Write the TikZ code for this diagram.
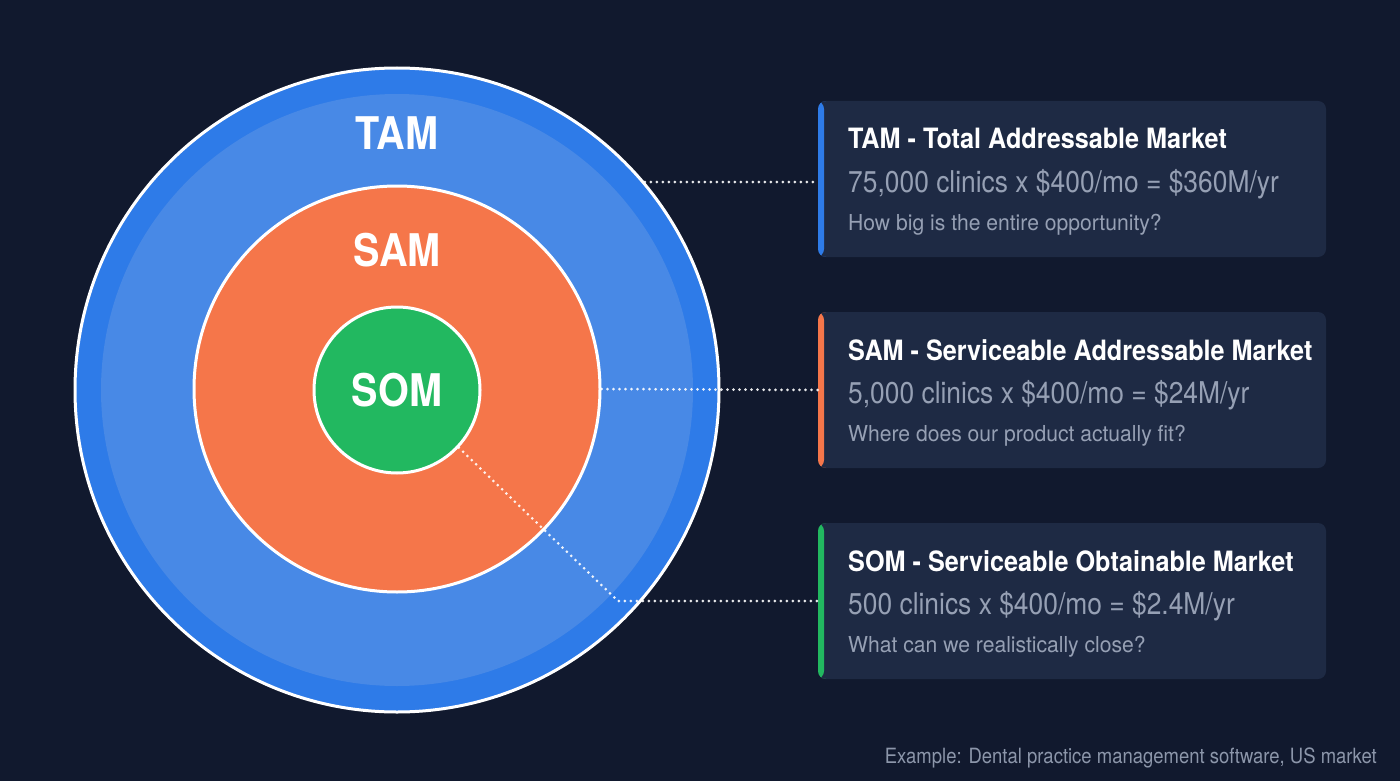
\documentclass[tikz,border=0pt]{standalone}
\usepackage{fontspec}
\setmainfont[FakeStretch=0.87]{TeX Gyre Heros}
\newfontfamily\calcf[FakeStretch=0.88]{TeX Gyre Heros}
\newfontfamily\qstf[FakeStretch=0.96]{TeX Gyre Heros}
\newfontfamily\footf[FakeStretch=0.88]{TeX Gyre Heros}
\newfontfamily\boldf[FakeStretch=0.9]{TeX Gyre Heros Bold}
\newfontfamily\bigf[FakeStretch=0.88]{TeX Gyre Heros Bold}
\usetikzlibrary{calc}
\definecolor{bg}{RGB}{17,25,46}
\definecolor{cardc}{RGB}{30,42,68}
\definecolor{tamblue}{RGB}{46,123,232}
\definecolor{tamlight}{RGB}{72,137,230}
\definecolor{samorange}{RGB}{245,118,74}
\definecolor{somgreen}{RGB}{34,184,96}
\definecolor{txtgray}{RGB}{150,160,180}
\definecolor{footgray}{RGB}{140,150,170}
\begin{document}
\begin{tikzpicture}[x=1pt,y=-1pt,
  ring/.style={circle, draw=white, line width=3pt, inner sep=0pt},
  bigl/.style={text=white, font=\bigf\fontsize{45}{50}\selectfont, inner sep=0pt},
  card/.style={rectangle, rounded corners=8pt, fill=cardc, minimum width=508pt, minimum height=156pt, inner sep=0pt,
     path picture={\fill[#1] (path picture bounding box.south west) rectangle ([xshift=6pt]path picture bounding box.north west);}},
  ttl/.style={anchor=base west, inner sep=0pt, text=white, font=\boldf\fontsize{28}{30}\selectfont},
  calc/.style={anchor=base west, inner sep=0pt, text=txtgray, font=\calcf\fontsize{30}{32}\selectfont},
  qst/.style={anchor=base west, inner sep=0pt, text=txtgray, font=\qstf\fontsize{22}{24}\selectfont},
  dots/.style={white, opacity=0.9, line width=3pt, line cap=round, dash pattern=on 0pt off 6pt}
]
\fill[bg] (0,0) rectangle (1400,781);
\useasboundingbox (0,0) rectangle (1400,781);

% circles
\node[ring, fill=tamblue, minimum size=644pt] (tam) at (397,390) {};
\fill[tamlight] (tam.center) circle[radius=296];
\node[ring, fill=samorange, minimum size=406pt] (sam) at (397,389) {};
\node[ring, fill=somgreen, minimum size=166pt] (som) at (397,390) {};

\node[bigl] (tamlabel) at (397,133) {TAM};
\node[bigl] (samlabel) at (397,250) {SAM};
\node[bigl] (somlabel) at (397,390) {SOM};

% cards
\node[card=tamblue] (tamcard) at (1072,179) {};
\node[card=samorange] (samcard) at (1072,390) {};
\node[card=somgreen] (somcard) at (1072,601) {};

\node[ttl] (tamtitle) at (848,149) {TAM - Total Addressable Market};
\node[calc] (tamcalc) at (848,192) {75,000 clinics x \$400/mo = \$360M/yr};
\node[qst] (tamq) at (848,230) {How big is the entire opportunity?};

\node[ttl] (samtitle) at (848,360) {SAM - Serviceable Addressable Market};
\node[calc] (samcalc) at (848,403) {5,000 clinics x \$400/mo = \$24M/yr};
\node[qst] (samq) at (848,441) {Where does our product actually fit?};

\node[ttl] (somtitle) at (848,571) {SOM - Serviceable Obtainable Market};
\node[calc] (somcalc) at (848,614) {500 clinics x \$400/mo = \$2.4M/yr};
\node[qst] (somq) at (848,652) {What can we realistically close?};

% connectors
\draw[dots] (tam.40.7) -- (tam.40.7 -| tamcard.west);
\draw[dots] (sam.east) -- (samcard.west);
\coordinate (bend) at (618,601);
\draw[dots] (som.-43) -- (bend) -- (somcard.west);

% footer
\node[anchor=base east, inner sep=0pt, text=footgray, font=\footf\fontsize{21}{24}\selectfont] (footer) at (1377,763) {Example: Dental practice management software, US market};
\end{tikzpicture}
\end{document}
